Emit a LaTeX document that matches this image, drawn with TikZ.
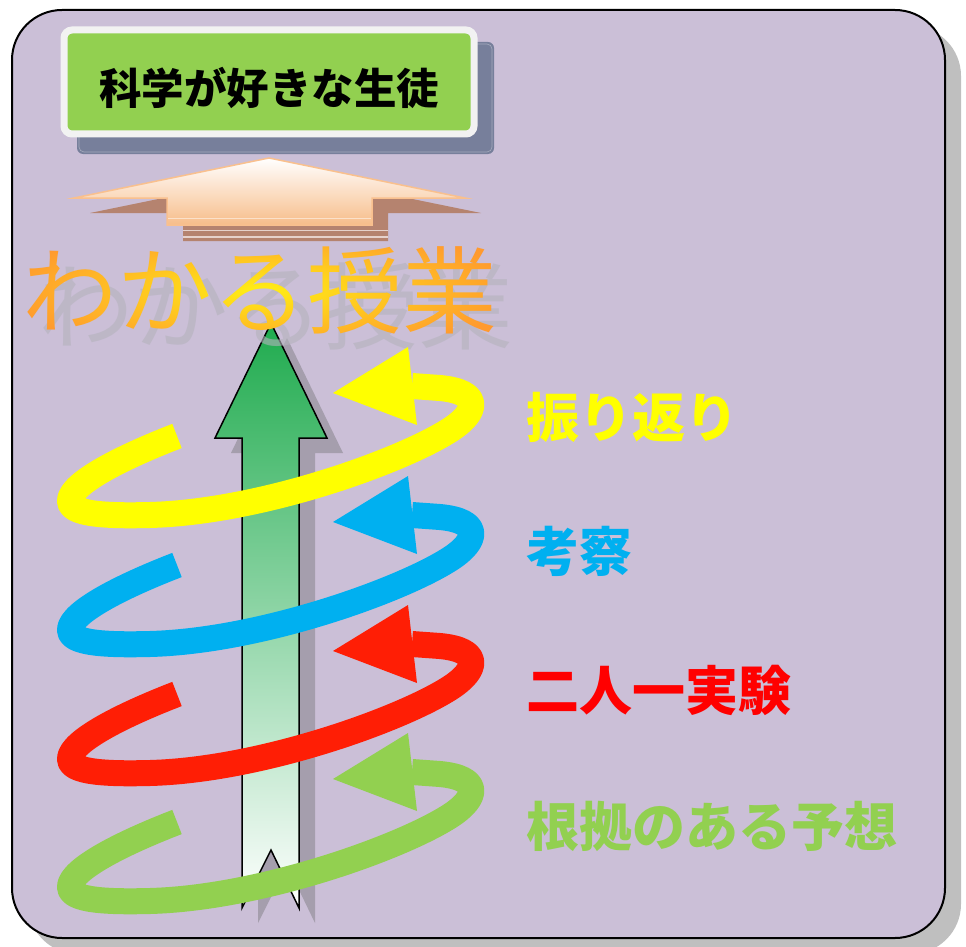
\documentclass[tikz,border=0pt]{standalone}
\usepackage{fontspec}
\usetikzlibrary{fadings}
\newfontfamily\jp{Noto Sans CJK JP}
\definecolor{bgpurple}{HTML}{CBBFD7}
\definecolor{boxshadow}{HTML}{BFBFBF}
\definecolor{titlegreen}{HTML}{92D050}
\definecolor{titleframe}{HTML}{F2F2F2}
\definecolor{titleshadow}{HTML}{777F9B}
\definecolor{wideline}{HTML}{F9C08E}
\definecolor{widebottom}{HTML}{F7BD8A}
\definecolor{wideshadowc}{HTML}{B5836F}
\definecolor{stripec}{HTML}{E6D2CC}
\definecolor{arrowgreen}{HTML}{1FAB4E}
\definecolor{vshadowc}{HTML}{A59EAD}
\definecolor{textgray}{HTML}{B4B2BC}
\definecolor{gradyellow}{HTML}{FFEE14}
\definecolor{gradorange}{HTML}{FF9A2E}
\definecolor{spyellow}{HTML}{FFFF00}
\definecolor{spblue}{HTML}{00B0F0}
\definecolor{spred}{HTML}{FF1E05}
\definecolor{spgreen}{HTML}{92D050}
\definecolor{lblred}{HTML}{FF0000}
\pgfdeclarefading{wakarufade}{\color{white}\jp\fontsize{95}{110}\selectfont わかる授業}
\begin{document}
\begin{tikzpicture}[x=1pt,y=-1pt,
  titlebox/.style={draw=titleframe, line width=7pt, fill=titlegreen, rounded corners=8pt,
    minimum width=410pt, minimum height=104pt, inner sep=0pt},
  titletext/.style={font=\jp\bfseries\fontsize{42.5}{50}\selectfont, text=black, inner sep=0pt},
  bigtext/.style={font=\jp\fontsize{95}{110}\selectfont, inner sep=0pt},
  lbl/.style={font=\jp\bfseries\fontsize{53}{60}\selectfont, inner sep=0pt, anchor=west},
  spiral/.style={line width=26pt, line cap=butt, line join=round},
  stripe/.style={draw=stripec, line width=1.1pt}]
\useasboundingbox (0,0) rectangle (966,947);
% main panel
\fill[boxshadow, rounded corners=50pt] (28,26) rectangle (961,954);
\draw[line width=2pt, fill=bgpurple, rounded corners=50pt] (12,10) rectangle (945,938);
% title
\fill[titleshadow, rounded corners=6pt] (77,42) rectangle (494,154);
\draw[white, opacity=0.35, line width=0.6pt, rounded corners=5pt] (79,44) rectangle (492,152);
\node[titlebox] (titlebox) at (269,82) {};
\node[titletext] (title) at (269,88) {科学が好きな生徒};
% wide arrow
\fill[wideshadowc] (285,173) -- (481,213) -- (388,213) -- (388,241) -- (183,241) -- (183,213) -- (90,213) -- cycle;
\draw[stripe] (183,230.5) -- (388,230.5);
\draw[stripe] (183,237) -- (388,237);
\shadedraw[draw=wideline, line width=1.5pt, top color=white, bottom color=widebottom]
  (269,158) -- (465,198) -- (372,198) -- (372,225) -- (167,225) -- (167,198) -- (74,198) -- cycle;
\draw[draw=white, opacity=0.5, line width=1pt] (168,218.5) -- (371,218.5);
% vertical arrow
\fill[vshadowc] (287,338) -- (343,453) -- (315,453) -- (315,923) -- (287,865) -- (258,923) -- (258,453) -- (231,453) -- cycle;
\shadedraw[draw=black, line width=1.5pt, top color=arrowgreen, bottom color=white]
  (271,323) -- (327,438) -- (299,438) -- (299,908) -- (271,850) -- (242,908) -- (242,438) -- (215,438) -- cycle;
% big text: grey reflection, then orange-yellow gradient text
\node[bigtext, text=textgray, text opacity=0.6] (wakarushadow) at (276,306) {わかる授業};
\shade[path fading=wakarufade, fit fading=false, fading transform={shift={(260,290)}},
  inner color=gradyellow, outer color=gradorange] (0,225) rectangle (520,355);
% spirals
\foreach \c/\dy in {spyellow/0, spblue/129, spred/258, spgreen/386} {
  \begin{scope}[shift={(0,\dy)}]
    \draw[spiral, draw=\c] (177,436) .. controls (120,458) and (72,483) .. (70,500)
      .. controls (68,515) and (110,516) .. (150,515)
      .. controls (260,512) and (400,462) .. (450,430)
      .. controls (478,412) and (482,392) .. (440,388) -- (412,386);
    \fill[\c] (408,347) -- (333,393) -- (417,425) -- cycle;
  \end{scope}
}
% labels
\node[lbl, text=spyellow] (furikaeri) at (526,417) {振り返り};
\node[lbl, text=spblue] (kousatsu) at (526,551) {考察};
\node[lbl, text=lblred] (jikken) at (526,690) {二人一実験};
\node[lbl, text=spgreen] (yosou) at (526,826) {根拠のある予想};
\end{tikzpicture}
\end{document}
